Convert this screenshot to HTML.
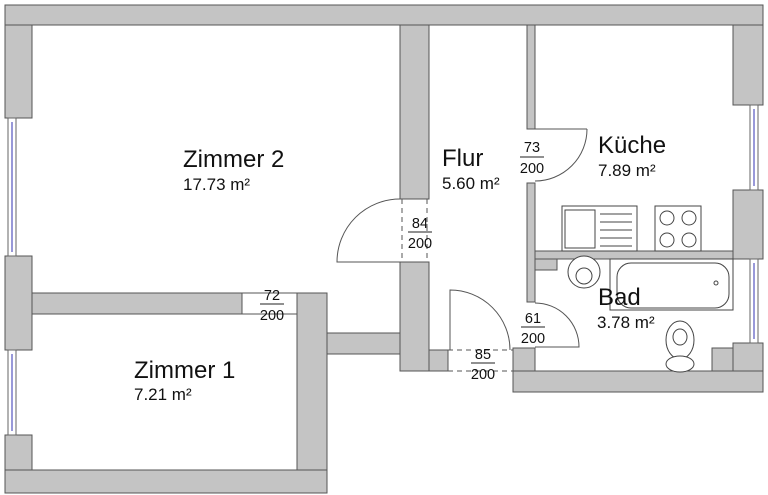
<!DOCTYPE html>
<html><head><meta charset="utf-8"><style>
html,body{margin:0;padding:0;background:#fff;}
svg{display:block;}
text{font-family:"Liberation Sans",sans-serif;fill:#111;}
</style></head><body>
<svg width="768" height="495" viewBox="0 0 768 495" xmlns="http://www.w3.org/2000/svg">
<g fill="#c4c4c4" stroke="#555" stroke-width="1">
<rect x="5" y="5" width="758" height="20"/>
<rect x="5" y="25" width="27" height="93"/>
<rect x="5" y="256" width="27" height="94"/>
<rect x="5" y="435" width="27" height="35"/>
<rect x="5" y="470" width="322" height="23"/>
<rect x="32" y="293" width="210" height="21"/>
<rect x="297" y="293" width="30" height="177"/>
<rect x="327" y="333" width="73" height="21"/>
<rect x="400" y="25" width="29" height="174"/>
<rect x="400" y="262" width="29" height="109"/>
<rect x="429" y="350" width="19" height="21"/>
<rect x="527" y="25" width="8" height="104"/>
<rect x="527" y="183" width="8" height="119"/>
<rect x="535" y="251" width="198" height="8"/>
<rect x="535" y="259" width="22" height="11"/>
<rect x="513" y="348" width="22" height="44"/>
<rect x="733" y="25" width="30" height="80"/>
<rect x="733" y="190" width="30" height="69"/>
<rect x="733" y="343" width="30" height="28"/>
<rect x="712" y="348" width="21" height="23"/>
<rect x="513" y="371" width="250" height="21"/>
</g>
<g fill="none" stroke="#666" stroke-width="1">
<rect x="8" y="118" width="8" height="138"/>
<rect x="8" y="350" width="8" height="85"/>
<rect x="750" y="105" width="8" height="85"/>
<rect x="750" y="259" width="8" height="84"/>
</g>
<g stroke="#7777cc" stroke-width="1.5">
<line x1="12" y1="122" x2="12" y2="252"/>
<line x1="12" y1="354" x2="12" y2="431"/>
<line x1="754" y1="109" x2="754" y2="186"/>
<line x1="754" y1="263" x2="754" y2="339"/>
</g>
<g fill="none" stroke="#555" stroke-width="1">
<path d="M400 199 A63 63 0 0 0 337 262 L400 262"/>
<path d="M587 129 A52 52 0 0 1 535 181 M535 129 L587 129"/>
<path d="M535 303 A44 44 0 0 1 579 347 L535 347"/>
<path d="M450 350 L450 290 A60 60 0 0 1 510 350"/>
<line x1="242" y1="293" x2="297" y2="293"/>
<line x1="242" y1="314" x2="297" y2="314"/>
</g>
<g stroke="#555" stroke-dasharray="5,4" stroke-width="1">
<line x1="402" y1="199" x2="402" y2="262"/>
<line x1="427" y1="199" x2="427" y2="262"/>
<line x1="448" y1="350" x2="513" y2="350"/>
<line x1="448" y1="371" x2="513" y2="371"/>
</g>
<g fill="#fff" stroke="#444" stroke-width="1">
<rect x="562" y="206" width="75" height="45"/>
<rect x="565" y="210" width="30" height="38"/>
<rect x="655" y="206" width="46" height="45"/>
<circle cx="667" cy="218" r="7"/><circle cx="689" cy="218" r="7"/>
<circle cx="667" cy="240" r="7"/><circle cx="689" cy="240" r="7"/>
</g>
<g stroke="#444"><line x1="600" y1="214" x2="632" y2="214"/><line x1="600" y1="222" x2="632" y2="222"/><line x1="600" y1="230" x2="632" y2="230"/><line x1="600" y1="238" x2="632" y2="238"/><line x1="600" y1="246" x2="632" y2="246"/></g>
<g fill="#fff" stroke="#444" stroke-width="1">
<rect x="610" y="259" width="123" height="51"/>
<rect x="617" y="263" width="112" height="45" rx="14"/>
<circle cx="716" cy="283" r="2"/>
<circle cx="584" cy="272" r="16"/>
<circle cx="584" cy="276" r="8"/>
<ellipse cx="680" cy="340" rx="14" ry="19"/>
<ellipse cx="680" cy="337" rx="7" ry="8"/>
<ellipse cx="680" cy="364" rx="14" ry="8"/>
</g>
<text x="183" y="167" font-size="24">Zimmer 2</text>
<text x="183" y="190" font-size="17">17.73 m²</text>
<text x="134" y="378" font-size="24">Zimmer 1</text>
<text x="134" y="400" font-size="17">7.21 m²</text>
<text x="442" y="166" font-size="24">Flur</text>
<text x="442" y="189" font-size="17">5.60 m²</text>
<text x="598" y="153" font-size="24">Küche</text>
<text x="598" y="176" font-size="17">7.89 m²</text>
<text x="598" y="305" font-size="24">Bad</text>
<text x="597" y="328" font-size="17">3.78 m²</text>
<g font-size="14.5" text-anchor="middle">
<text x="420" y="228">84</text><text x="420" y="248">200</text>
<text x="532" y="152">73</text><text x="532" y="173">200</text>
<text x="272" y="300">72</text><text x="272" y="320">200</text>
<text x="533" y="323">61</text><text x="533" y="343">200</text>
<text x="483" y="359">85</text><text x="483" y="379">200</text>
</g>
<g stroke="#222" stroke-width="1">
<line x1="408" y1="232" x2="432" y2="232"/>
<line x1="520" y1="157" x2="544" y2="157"/>
<line x1="260" y1="304" x2="284" y2="304"/>
<line x1="521" y1="327" x2="545" y2="327"/>
<line x1="471" y1="363" x2="495" y2="363"/>
</g>
</svg>
</body></html>
